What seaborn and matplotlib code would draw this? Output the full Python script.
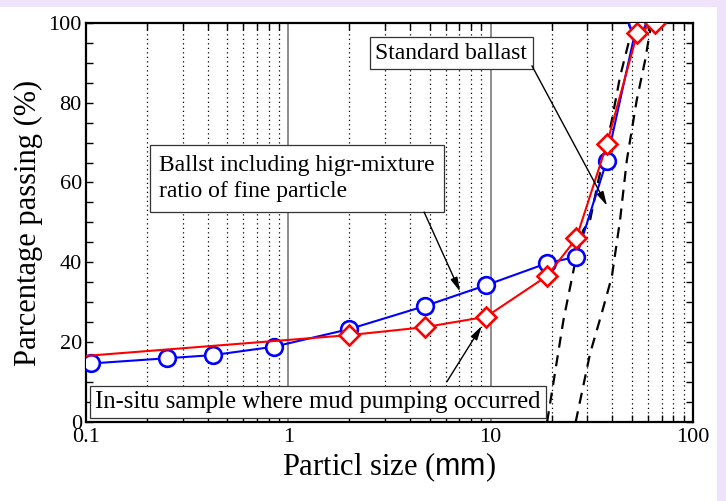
import numpy as np
import pandas as pd
import matplotlib
matplotlib.use("Agg")
import matplotlib.pyplot as plt
from matplotlib.patches import Rectangle
from matplotlib.ticker import FixedLocator, MultipleLocator, FixedFormatter
import seaborn as sns

# ---- data ----
high_fine_size = [0.106, 0.25, 0.425, 0.85, 2.0, 4.75, 9.5, 19, 26.5, 37.5, 53]
high_fine_pass = [14.7, 16.0, 16.8, 18.9, 23.3, 29.1, 34.3, 39.8, 41.4, 65.5, 100]

insitu_size = [0.075, 2.0, 4.75, 9.5, 19, 26.5, 37.5, 53, 65]
insitu_pass = [16.1, 21.8, 23.8, 26.4, 36.6, 46.0, 69.6, 97.3, 100]

std_upper_size = [19, 22.9, 26.1, 28.7, 31.0, 34.1, 39.7, 43.6, 48.9, 51.5]
std_upper_pass = [0, 25.6, 39.8, 48.1, 50.6, 60.6, 75.6, 86.5, 96.5, 100]

std_lower_size = [26.3, 31.0, 35.4, 39.7, 43.6, 47.1, 52.7, 58.0, 61.4, 62.5]
std_lower_pass = [0, 17.2, 27.3, 36.4, 50.6, 65.6, 80.6, 90.6, 98.1, 100]

x_ticks = [0.1, 1, 10, 100]
x_tick_labels = ["0.1", "1", "10", "100"]
y_ticks = [0, 20, 40, 60, 80, 100]

label_std = "Standard ballast"
label_fine = "Ballst including higr-mixture\nratio of fine particle"
label_insitu = "In-situ sample where mud pumping occurred"

# ---- style ----
sns.set_theme(style="white")
plt.rcParams["font.family"] = ["Liberation Serif", "DejaVu Serif"]
plt.rcParams["mathtext.fontset"] = "custom"
plt.rcParams["mathtext.sf"] = "Liberation Sans"
plt.rcParams["mathtext.rm"] = "Liberation Serif"

fig = plt.figure(figsize=(7.26, 5.01), dpi=100, facecolor="white")
W, H = 726, 501
# lavender frame bands
lav = "#EEE3FA"
fig.patches.append(Rectangle((0, 1 - 7 / H), 1, 7 / H, transform=fig.transFigure,
                             facecolor=lav, edgecolor="none", zorder=-10))
fig.patches.append(Rectangle((717 / W, 0), 1 - 717 / W, 1, transform=fig.transFigure,
                             facecolor=lav, edgecolor="none", zorder=-10))

x0, x1, ytop, ybot = 86, 693, 22.7, 422.2
ax = fig.add_axes([x0 / W, 1 - ybot / H, (x1 - x0) / W, (ybot - ytop) / H])
ax.set_facecolor("white")

ax.set_xscale("log")
ax.set_xlim(0.1, 100)
ax.set_ylim(0, 100)

# grid
ax.xaxis.set_major_locator(FixedLocator(x_ticks))
ax.xaxis.set_major_formatter(FixedFormatter(x_tick_labels))
minor = [m * d for d in (0.1, 1, 10) for m in range(2, 10)]
ax.xaxis.set_minor_locator(FixedLocator(minor))
ax.yaxis.set_major_locator(FixedLocator(y_ticks))
ax.yaxis.set_minor_locator(MultipleLocator(5))
for v in (1, 10):
    ax.axvline(v, color="#7a7a7a", lw=1.2, zorder=1)
for v in minor:
    ax.axvline(v, color="black", lw=0.9, ls=(0, (1, 2.6)), zorder=1)

# standard ballast bounds
sns.lineplot(x=std_upper_size, y=std_upper_pass, ax=ax, color="black", lw=1.6,
             linestyle=(0, (5, 3.5)), sort=False, estimator=None, zorder=2)
sns.lineplot(x=std_lower_size, y=std_lower_pass, ax=ax, color="black", lw=1.6,
             linestyle=(0, (5, 3.5)), sort=False, estimator=None, zorder=2)

# samples
sns.lineplot(x=high_fine_size, y=high_fine_pass, ax=ax, color="blue", lw=1.5,
             marker="o", markersize=12, markerfacecolor="white",
             markeredgecolor="blue", markeredgewidth=1.9,
             sort=False, estimator=None, zorder=3)
sns.lineplot(x=insitu_size, y=insitu_pass, ax=ax, color="red", lw=1.5,
             marker="D", markersize=10, markerfacecolor="white",
             markeredgecolor="red", markeredgewidth=1.9,
             sort=False, estimator=None, zorder=4)

# ticks & spines
ax.tick_params(axis="both", which="both", direction="in", top=True, right=True,
               bottom=True, left=True, length=5, width=1.0, color="black",
               labelsize=16, labelcolor="black")
ax.tick_params(axis="x", which="major", length=0, pad=4)
ax.tick_params(axis="y", which="major", pad=3)
for s in ax.spines.values():
    s.set_color("black")
    s.set_linewidth(1.6)

ax.set_xlabel(r"Particl size ($\mathsf{mm}$)", fontsize=22, color="black", labelpad=3)
ax.set_ylabel("Parcentage passing (%)", fontsize=22, color="black", labelpad=4)

# annotations
box = dict(boxstyle="square,pad=0.22", facecolor="white", edgecolor="#333333", lw=0.9)
arrow = dict(arrowstyle="-|>,head_length=0.7,head_width=0.18", color="black", lw=1.0,
             shrinkA=0, shrinkB=0)

ax.text(0.602, 0.924, label_std, transform=ax.transAxes, ha="center", va="center",
        fontsize=17, color="black", bbox=box, zorder=6)
ax.annotate("", xy=(37.6, 54.2), xytext=(16.0, 89.2), arrowprops=arrow, zorder=6)

ax.text(0.3476, 0.61, label_fine, transform=ax.transAxes, ha="center", va="center",
        multialignment="left", fontsize=17, color="black", linespacing=1.35,
        bbox=dict(boxstyle="square,pad=0.4", facecolor="white", edgecolor="#333333", lw=0.9),
        zorder=6)
ax.annotate("", xy=(7.06, 32.7), xytext=(4.69, 52.6), arrowprops=arrow, zorder=6)

ax.text(0.382, 0.0506, label_insitu, transform=ax.transAxes, ha="center", va="center",
        fontsize=17.8, color="black", bbox=dict(boxstyle="square,pad=0.2", facecolor="white",
                                                edgecolor="#333333", lw=0.9), zorder=6)
ax.annotate("", xy=(9.04, 24.1), xytext=(6.07, 10.1), arrowprops=arrow, zorder=6)

fig.savefig("out.png", dpi=100, facecolor=fig.get_facecolor())
